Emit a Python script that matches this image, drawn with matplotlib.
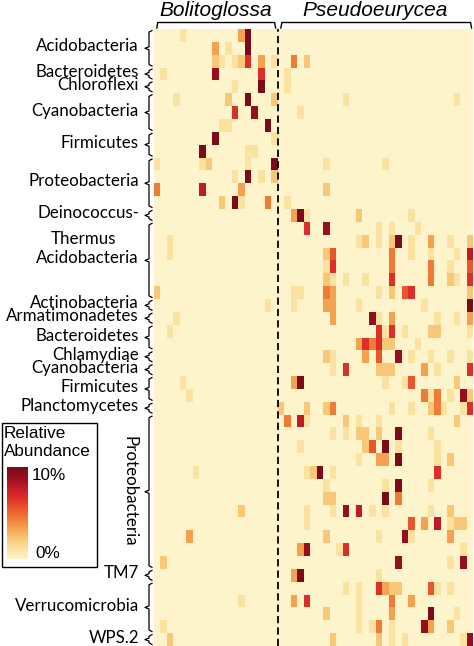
import numpy as np
import matplotlib
matplotlib.use("Agg")
import matplotlib.pyplot as plt
import matplotlib.transforms as mtransforms
from matplotlib.colors import LinearSegmentedColormap
from matplotlib.patches import Rectangle

# salamander genera (columns = skin samples)
genera = ["Bolitoglossa", "Pseudoeurycea"]
n_bolito = 19
n_pseudo = 30

# OTU rows grouped by phylum (top block: Bolitoglossa OTUs, bottom: Pseudoeurycea OTUs)
upper_phyla = ["Acidobacteria", "Bacteroidetes", "Chloroflexi", "Cyanobacteria",
               "Firmicutes", "Proteobacteria"]
upper_sizes = [3, 1, 1, 3, 2, 4]
lower_phyla = ["Deinococcus-\nThermus", "Acidobacteria", "Actinobacteria", "Armatimonadetes",
               "Bacteroidetes", "Chlamydiae", "Cyanobacteria", "Firmicutes", "Planctomycetes",
               "Proteobacteria", "TM7", "Verrucomicrobia", "WPS.2"]
lower_sizes = [1, 6, 1, 1, 2, 1, 1, 2, 1, 12, 1, 4, 1]

# relative abundance per OTU row as "column:level" (level 0..9 ~ 0..10 %)
otu_cells = [
    "4:1 13:3 14:9",
    "9:3 11:1 14:9",
    "9:2 10:1 12:1 13:2 14:6 16:3 18:1 21:4 23:2",
    "1:1 9:8 16:6 20:1",
    "12:1 16:9 20:1",
    "3:1 11:2 14:9 18:2 29:1 46:1",
    "12:6 15:8 22:1",
    "10:1 11:1 17:9",
    "9:9 18:1",
    "7:9 14:1 15:1",
    "0:1 7:1 8:2 14:1 18:9 26:1 35:1",
    "12:1 14:9 16:1 18:2",
    "0:4 7:7 13:3 26:2",
    "10:2 12:9 13:1 17:4 20:1",
    "21:3 22:9 23:1 31:2 39:1",
    "23:6 26:8 34:1 36:1 40:1",
    "2:1 31:1 32:2 34:1 36:2 37:9 39:1 42:3 45:1 48:2",
    "2:1 26:2 27:5 36:4 39:1 42:1 46:1 48:7",
    "26:1 27:6 36:4 42:4 45:1 48:5",
    "26:2 27:1 29:1 32:1 36:6 42:4 45:2 46:1 48:6",
    "0:2 21:1 22:1 26:4 27:3 34:1 36:2 38:5 39:6 48:2",
    "17:1 21:1 26:3 27:3 31:1 41:1 48:9",
    "3:1 27:3 33:8 34:1 36:3 43:1 46:1 48:3",
    "2:1 34:6 35:1 36:6 38:1 42:2 43:2 48:1",
    "31:3 32:6 33:4 34:6 35:2 36:2 40:1",
    "26:2 27:1 32:3 34:5 37:8 39:1 42:1 45:1 48:1",
    "27:1 29:6 34:2 35:2 36:2 41:3 43:1 48:6",
    "4:1 21:3 22:9 35:1 38:1 39:5 46:2",
    "5:1 41:4 42:1 43:4 45:1 47:8 48:2",
    "19:2 23:2 26:2 27:4 36:1 39:1 42:2 43:4 44:1 47:1 48:6",
    "20:4 22:7 23:1 29:2 31:1 34:1 46:2",
    "27:1 29:1 31:2 32:2 34:2 37:9 42:1",
    "22:1 32:2 33:5 35:9 37:1 43:1",
    "31:1 34:3 35:3 37:9 43:1 45:2",
    "6:1 23:1 24:2 25:9 27:1 43:6",
    "26:1 35:1 37:9 42:1",
    "26:2 27:2 35:9 37:4",
    "13:2 23:1 27:1 29:8 31:7 33:1 35:1 42:1 45:2",
    "23:1 39:5 41:3 43:7 45:1 46:2 47:2",
    "5:3 26:2 34:1 38:8 39:1 45:3",
    "22:3 23:8 28:1 29:6 47:1",
    "1:2 37:8 45:1 47:8",
    "21:3 22:9 34:1",
    "29:1 31:1 34:6 35:3 36:2 37:2 42:5 43:1 45:1",
    "13:1 21:3 23:6 31:1 36:4 39:3",
    "26:2 31:1 36:3 42:9 46:1",
    "1:1 31:1 33:1 34:4 36:1 41:8 42:3 45:2",
    "2:2 27:2 34:2 36:1 38:1 47:1 48:8",
]

n_rows = len(otu_cells)
n_cols = n_bolito + n_pseudo
abund = np.zeros((n_rows, n_cols))
for r, row in enumerate(otu_cells):
    for item in row.split():
        c, v = item.split(":")
        abund[r, int(c)] = int(v)

cmap = LinearSegmentedColormap.from_list(
    "abund", ["#fdf4cb", "#fae2a0", "#f8c778", "#f4a24f", "#ef7b37",
              "#ea552c", "#dc2f29", "#bf1b26", "#960f1f", "#7a0b18"])

W, H = 474, 646
fig = plt.figure(figsize=(W / 100, H / 100), dpi=100)
ax = fig.add_axes([153.5 / W, 0, 320 / W, 617 / H])
ax.pcolormesh(np.arange(n_cols + 1), np.arange(n_rows + 1), abund,
              cmap=cmap, vmin=0, vmax=9)
ax.set_xlim(0, n_cols)
ax.set_ylim(n_rows, 0)
ax.axis("off")
ax.axvline(n_bolito, color="black", lw=1.3, ls=(0, (4.0, 2.3)))

# overlay in pixel coordinates for labels, brackets, legend
ov = fig.add_axes([0, 0, 1, 1], facecolor="none")
ov.set_xlim(0, W)
ov.set_ylim(H, 0)
ov.axis("off")
tr = mtransforms.blended_transform_factory(ov.transData, ax.transData)

lab_font = "Lato"
lab_size = 12.2


def left_bracket(start, size):
    top, bot = start + 0.12, start + size - 0.12
    mid = start + size / 2
    h = 0.12
    xs = [152, 149, 149, 145, 149, 149, 152]
    ys = [top, top + h, mid - h, mid, mid + h, bot - h, bot]
    ov.plot(xs, ys, color="black", lw=0.9, transform=tr, clip_on=False)
    return mid


start = 0
for name, size in zip(upper_phyla + lower_phyla, upper_sizes + lower_sizes):
    mid = left_bracket(start, size)
    if name == "Proteobacteria" and start >= sum(upper_sizes):
        ov.text(130, mid, name, rotation=-90, ha="center", va="center",
                fontsize=lab_size, family=lab_font, transform=tr)
    elif name.startswith("Deinococcus"):
        first, second = name.split("\n")
        ov.text(139, mid - 0.2, first, ha="right", va="center",
                fontsize=lab_size, family=lab_font, transform=tr)
        ov.text(84, mid + 1.85, second, ha="center", va="center",
                fontsize=lab_size, family=lab_font, transform=tr)
    else:
        ov.text(139, mid - 0.15, name, ha="right", va="center",
                fontsize=lab_size, family=lab_font, transform=tr)
    start += size

# genus brackets on top
trx = mtransforms.blended_transform_factory(ax.transData, ov.transData)
for (c0, c1), name in zip([(0, n_bolito), (n_bolito, n_cols)], genera):
    x0, x1 = c0 + 0.5, c1 - 0.3
    ov.plot([x0, x0 + 0.15, x1 - 0.15, x1], [28, 22.5, 22.5, 28], color="black",
            lw=1.0, transform=trx, clip_on=False)
    ov.text((c0 + c1) / 2, 11, name, ha="center", va="center", style="italic",
            fontsize=15, family="Liberation Sans", transform=trx)

# legend box
ov.add_patch(Rectangle((2, 423), 95, 144, facecolor="white", edgecolor="black", lw=1.0))
leg_kw = dict(va="center", fontsize=12.3, family="Liberation Sans")
ov.text(4, 433, "Relative", ha="left", **leg_kw)
ov.text(4, 452, "Abundance", ha="left", **leg_kw)
ov.text(32, 476, "10%", ha="left", **leg_kw)
ov.text(35, 554, "0%", ha="left", **leg_kw)
cax = fig.add_axes([7 / W, 1 - 559 / H, 21 / W, 92 / H])
grad = np.linspace(9, 0, 200).reshape(-1, 1)
cax.imshow(grad, aspect="auto", cmap=cmap, vmin=0, vmax=9)
cax.axis("off")

fig.savefig("out.png", dpi=100)
